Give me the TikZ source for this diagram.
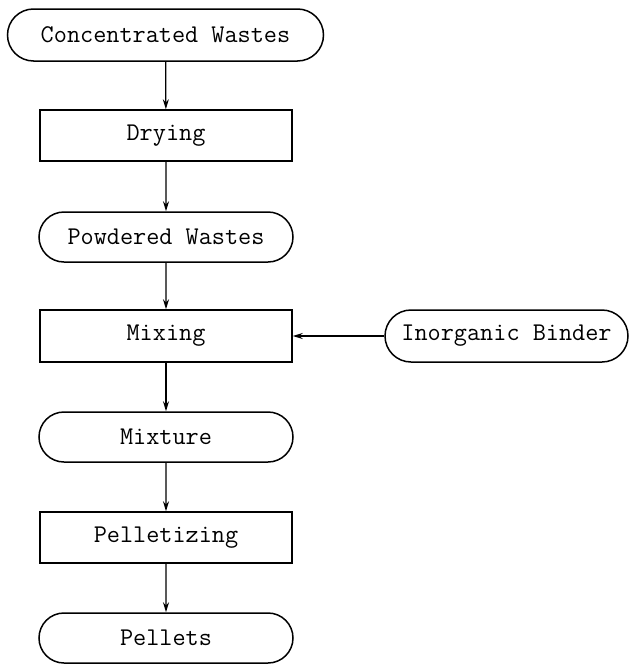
\documentclass[tikz,border=0pt]{standalone}
\usetikzlibrary{shapes.misc,arrows.meta}
\begin{document}
\begin{tikzpicture}[x=1pt,y=-1pt,
    every node/.style={font=\ttfamily\fontsize{25.5}{30}\selectfont,draw,line width=1.5pt,inner sep=0pt},
    stuff/.style={rounded rectangle,minimum width=254pt,minimum height=50pt},
    process/.style={rectangle,minimum width=252pt,minimum height=51pt}]
      \useasboundingbox (0,0) rectangle (631,664);
      \node[stuff,minimum width=316pt,minimum height=52pt] (cw) at (165.5,35) {Concentrated Wastes};
      \node[process] (dry) at (166,135.5) {Drying};
      \node[stuff] (pw) at (166,237) {Powdered Wastes};
      \node[process,minimum height=52pt] (mix) at (166,336) {Mixing};
      \node[stuff,minimum width=243pt,minimum height=52pt] (ib) at (506.5,336) {Inorganic Binder};
      \node[stuff] (mx) at (166,437) {Mixture};
      \node[process] (pel) at (166,537.5) {Pelletizing};
      \node[stuff] (pt) at (166,638) {Pellets};
      \begin{scope}[-{Stealth[length=10pt,width=6pt]},line width=1.3pt]
        \draw (cw) to (dry);
        \draw (dry) to (pw);
        \draw (pw) to (mix);
        \draw (ib) to (mix);
        \draw (mix) to (mx);
        \draw (mx) to (pel);
        \draw (pel) to (pt);
      \end{scope}
    \end{tikzpicture}
\end{document}
